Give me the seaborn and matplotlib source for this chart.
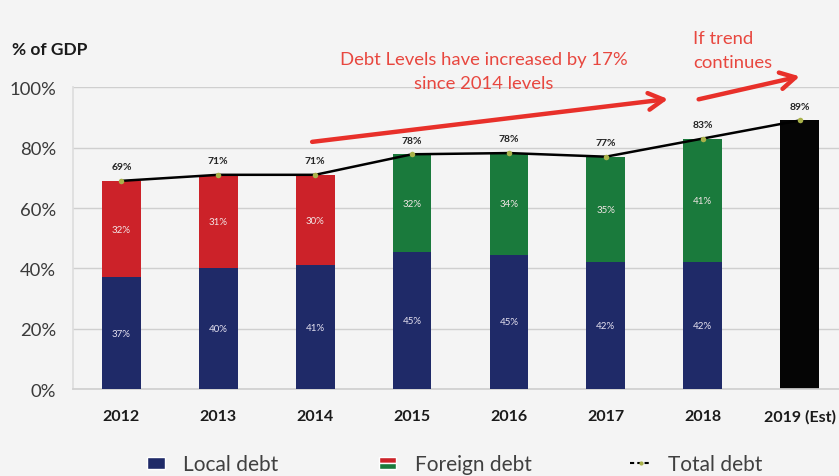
import numpy as np
import pandas as pd
import matplotlib
matplotlib.use("Agg")
import matplotlib.pyplot as plt
from matplotlib.patches import Rectangle, Patch
from matplotlib.lines import Line2D
from matplotlib.legend_handler import HandlerBase
import seaborn as sns

# ---- data (% of GDP) ----
years = ["2012", "2013", "2014", "2015", "2016", "2017", "2018", "2019 (Est)"]
local_debt = [37, 40, 41, 45.4, 44.6, 42, 42]
foreign_debt = [32, 31, 30, 32.4, 33.6, 35, 41]
estimate_2019 = 89
y_ticks = [0, 20, 40, 60, 80, 100]

totals = [l + f for l, f in zip(local_debt, foreign_debt)] + [estimate_2019]

NAVY = "#1f2a68"
RED = "#cc2229"
GREEN = "#1a7a3c"
BLACK = "#050505"
MARKER = "#a9b24a"
ANNOT = "#e8473f"

sns.set_theme(style="white")
plt.rcParams["font.family"] = ["Lato", "DejaVu Sans"]

fig = plt.figure(figsize=(8.39, 4.77), dpi=100, facecolor="#f4f4f4")
ax = fig.add_axes([0.087, 0.182, 0.918, 0.633])
ax.set_facecolor("none")

# upper segment colour by era: red (pre-2015), green (2015-2018), black (estimate)
top_colors = [RED] * 3 + [GREEN] * 4 + [BLACK]
df_tot = pd.DataFrame({"year": years, "value": totals})
sns.barplot(data=df_tot, x="year", y="value", hue="year", order=years,
            palette=top_colors, width=0.4, legend=False, saturation=1,
            linewidth=0, ax=ax, zorder=2)

df_loc = pd.DataFrame({"year": years[:len(local_debt)], "value": local_debt})
sns.barplot(data=df_loc, x="year", y="value", order=years, color=NAVY,
            width=0.4, saturation=1, linewidth=0, ax=ax, zorder=3)

# total debt line
xpos = np.arange(len(years))
ax.plot(xpos, totals, color="black", lw=1.8, zorder=4)
ax.plot(xpos, totals, ls="none", marker="o", ms=4, color=MARKER,
        markeredgewidth=0, zorder=5)

# segment labels
for i, (l, f) in enumerate(zip(local_debt, foreign_debt)):
    ax.text(i, l / 2, f"{round(l)}%", ha="center", va="center",
            fontsize=7, color="#e6e2f0", zorder=6)
    ax.text(i, l + f / 2, f"{round(f)}%", ha="center", va="center",
            fontsize=7, color="#f2e6e6", zorder=6)
for i, t in enumerate(totals):
    ax.text(i, t + 3.2, f"{round(t)}%", ha="center", va="bottom",
            fontsize=7.5, fontweight="bold", color="#222222", zorder=6)

# axes styling
ax.set_xlim(-0.5, 7.45)
ax.set_ylim(0, 100)
ax.set_yticks(y_ticks)
ax.set_yticklabels([f"{v}%" for v in y_ticks], fontsize=13.3, color="#3a3a3a")
ax.set_xlabel("")
ax.set_ylabel("")
ax.tick_params(axis="x", labelsize=11.5, colors="#1a1a1a", pad=14, length=0)
for lab in ax.get_xticklabels():
    lab.set_fontweight("bold")
ax.set_xticks(np.arange(len(years) - 1) + 0.5, minor=True)
ax.tick_params(axis="x", which="minor", length=4, color="#bbbbbb", width=1)
ax.tick_params(axis="y", length=0, pad=12)
ax.yaxis.grid(True, color="#cfcfcf", lw=1)
ax.set_axisbelow(True)
for s in ["top", "right"]:
    ax.spines[s].set_visible(False)
ax.spines["left"].set_color("#dddddd")
ax.spines["bottom"].set_color("#d0d0d0")

fig.text(0.014, 0.895, "% of GDP", fontsize=12.5, fontweight="bold",
         color="#1a1a1a", va="center")

# trend annotations
ax.annotate("", xy=(5.67, 96.2), xytext=(1.94, 81.8),
            arrowprops=dict(arrowstyle="->,head_length=0.9,head_width=0.5",
                            color="#e8302a", lw=3.2),
            annotation_clip=False)
ax.annotate("", xy=(7.03, 103.8), xytext=(5.93, 95.8),
            arrowprops=dict(arrowstyle="->,head_length=0.9,head_width=0.5",
                            color="#e8302a", lw=3.2),
            annotation_clip=False)
ax.text(3.74, 105.3, "Debt Levels have increased by 17%\nsince 2014 levels",
        ha="center", va="center", fontsize=13.3, color=ANNOT,
        linespacing=1.6, clip_on=False)
ax.text(5.9, 112.3, "If trend\ncontinues", ha="left", va="center",
        fontsize=13.3, color=ANNOT, linespacing=1.6, clip_on=False)


class SplitPatchHandler(HandlerBase):
    def create_artists(self, legend, orig_handle, xdescent, ydescent,
                       width, height, fontsize, trans):
        w, h = width * 0.85, height * 0.8
        x0 = xdescent + (width - w) / 2
        y0 = -ydescent + (height - h) / 2
        top = Rectangle((x0, y0 + h / 2), w, h / 2,
                        facecolor=RED, transform=trans)
        bot = Rectangle((x0, y0), w, h / 2,
                        facecolor=GREEN, transform=trans)
        return [top, bot]


class SquareHandler(HandlerBase):
    def create_artists(self, legend, orig_handle, xdescent, ydescent,
                       width, height, fontsize, trans):
        w, h = width * 0.85, height * 0.8
        x0 = xdescent + (width - w) / 2
        y0 = -ydescent + (height - h) / 2
        return [Rectangle((x0, y0), w, h,
                          facecolor=orig_handle.get_facecolor(),
                          transform=trans)]


local_h = Patch(facecolor=NAVY)
foreign_h = Patch(facecolor=RED)
total_h = Line2D([], [], color="black", lw=1.5, ls="--", dashes=(2, 1.5),
                 marker="o", ms=3, markerfacecolor=MARKER,
                 markeredgewidth=0)
fig.legend([local_h, foreign_h, total_h],
           ["Local debt", "Foreign debt", "Total debt"],
           handler_map={local_h: SquareHandler(),
                        foreign_h: SplitPatchHandler()},
           loc="center", bbox_to_anchor=(0.541, 0.025), ncol=3, frameon=False,
           fontsize=15, handlelength=1.0, handletextpad=0.8,
           columnspacing=4.75, labelcolor="#404040")

fig.savefig("out.png", dpi=100, facecolor=fig.get_facecolor())
